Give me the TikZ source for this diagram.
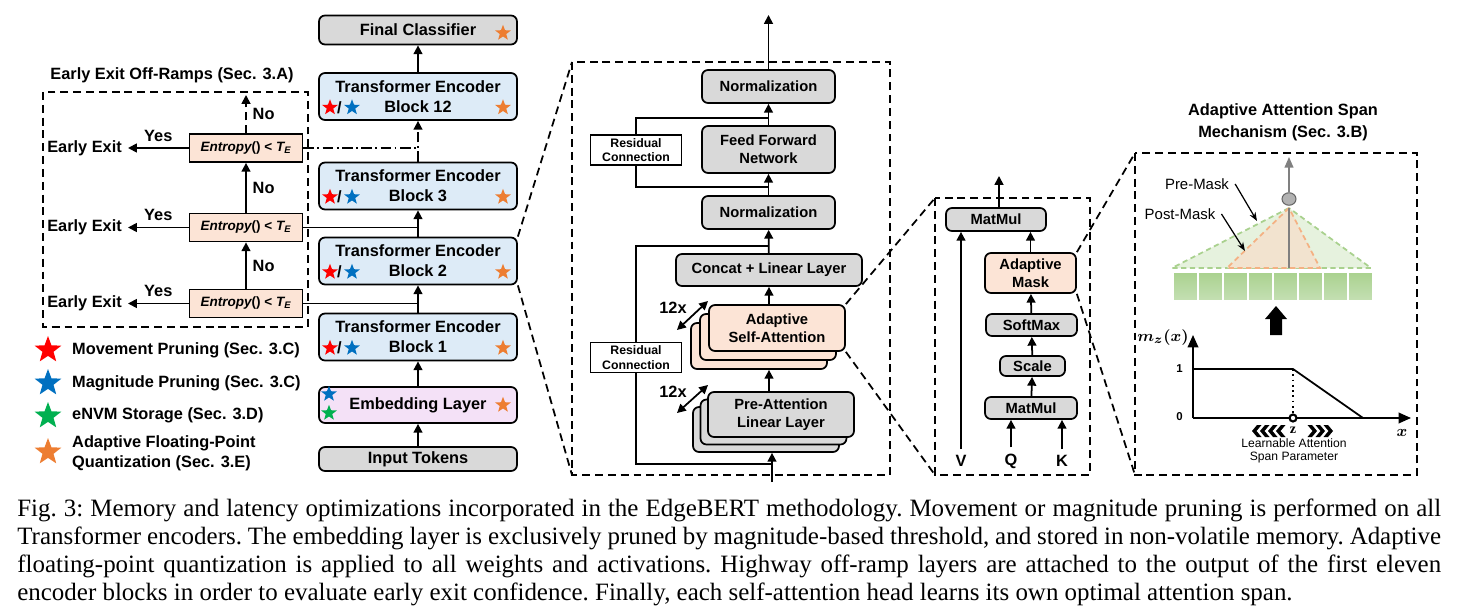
\documentclass[tikz,border=0pt]{standalone}
\usepackage{fontspec}
\setmainfont{Liberation Serif}
\setsansfont{Liberation Sans}
\usepackage{amsmath}
\usepackage{tikz}
\usetikzlibrary{arrows.meta, calc, shapes.geometric}
\definecolor{boxgray}{HTML}{D9D9D9}
\definecolor{encblue}{HTML}{DDEBF7}
\definecolor{embpink}{HTML}{F4E1F7}
\definecolor{rampfill}{HTML}{FCE4D6}
\definecolor{starred}{HTML}{FF0000}
\definecolor{starblue}{HTML}{0070C0}
\definecolor{stargreen}{HTML}{00B050}
\definecolor{starorange}{HTML}{ED7D31}
\definecolor{premaskfill}{HTML}{E6F2DE}
\definecolor{premaskline}{HTML}{A9D18E}
\definecolor{postmaskfill}{HTML}{F2E3CF}
\definecolor{postmaskline}{HTML}{F4B183}
\definecolor{celltop}{HTML}{A9D18E}
\definecolor{cellbot}{HTML}{C5E0B4}
\tikzset{
  flow/.style={
    -{Triangle[length=5pt,width=5pt]},
    line width=1pt
  },
  skipline/.style={
    line width=1pt,
    dash pattern=on 6pt off 2pt on 1pt off 2pt
  },
  layer/.style={
    draw,
    rounded corners=3.4pt,
    line width=1pt,
    inner sep=0pt,
    align=center,
    font=\sffamily\bfseries\fontsize{9.3}{11.3}\selectfont
  },
  attn layer/.style={
    layer,
    font=\sffamily\bfseries\fontsize{8.4}{10.2}\selectfont
  },
  encoder/.style={
    layer,
    fill=encblue,
    minimum width=3.96cm,
    minimum height=0.94cm
  },
  rampbox/.style={
    draw,
    fill=rampfill,
    line width=1pt,
    minimum width=2.26cm,
    minimum height=0.56cm,
    inner sep=0pt,
    font=\sffamily\bfseries\fontsize{7.7}{8.5}\selectfont
  },
  resbox/.style={
    draw,
    fill=white,
    line width=1pt,
    minimum width=1.82cm,
    minimum height=0.6cm,
    inner sep=0pt,
    align=center,
    font=\sffamily\bfseries\fontsize{7}{8.2}\selectfont
  },
  panel/.style={
    draw,
    line width=1pt,
    dash pattern=on 4.5pt off 2.8pt
  },
  zoomline/.style={
    line width=1pt,
    dash pattern=on 4.5pt off 2.8pt
  },
  label text/.style={
    font=\sffamily\bfseries\fontsize{9.3}{11.3}\selectfont
  },
  math label/.style={
    font=\fontsize{9.5}{10}\selectfont
  },
  pstar/.style={
    star,
    star points=5,
    star point ratio=2.4,
    inner sep=0pt,
    minimum size=0.33cm,
    fill=#1
  },
  bigstar/.style={
    pstar=#1,
    minimum size=0.56cm
  }
}
\newcommand{\entropytext}{{\itshape Entropy}() < {\itshape T\textsubscript{E}}}
\newcommand{\encstars}[1]{%
  \node[pstar=starred] (#1-mov) at ($(#1)+(-88,11)$) {};
  \node[label text, inner sep=0pt] (#1-sl) at ($(#1)+(-78.5,11)$) {/};
  \node[pstar=starblue] (#1-mag) at ($(#1)+(-66,11)$) {};
  \node[pstar=starorange] (#1-afp) at ($(#1)+(85,11)$) {};
}

\begin{document}
\begin{tikzpicture}[x=0.02cm, y=-0.02cm, >=Stealth]
  \useasboundingbox (0,0) rectangle (1458,615);

  % encoder column
  \node[layer, fill=boxgray, minimum width=3.96cm, minimum height=0.58cm] (final) at (418,30) {Final Classifier};
  \node[encoder] (enc12) at (418,96.5) {Transformer Encoder\\Block 12};
  \node[encoder] (enc3) at (418,186) {Transformer Encoder\\Block 3};
  \node[encoder] (enc2) at (418,261) {Transformer Encoder\\Block 2};
  \node[encoder] (enc1) at (418,337) {Transformer Encoder\\Block 1};
  \node[layer, fill=embpink, minimum width=3.96cm, minimum height=0.72cm] (emb) at (418,405) {Embedding Layer};
  \node[layer, fill=boxgray, minimum width=3.96cm, minimum height=0.48cm] (tokens) at (418,459) {Input Tokens};

  \encstars{enc12}
  \encstars{enc3}
  \encstars{enc2}
  \encstars{enc1}
  \node[pstar=starorange] (final-afp) at ($(final)+(85,3)$) {};
  \node[pstar=starblue] (emb-mag) at (329,394) {};
  \node[pstar=stargreen] (emb-nvm) at (329,413) {};
  \node[pstar=starorange] (emb-afp) at (503,405) {};

  \draw[flow] (tokens) -- (emb);
  \draw[flow] (emb) -- (enc1);
  \draw[flow] (enc1) -- (enc2);
  \draw[flow] (enc2) -- (enc3);
  \draw[flow, skipline] (enc3) -- (enc12);
  \draw[flow] (enc12) -- (final);

  % early exit off-ramps
  \node[label text] (rampTitle) at (172,75) {Early Exit Off-Ramps (Sec. 3.A)};
  \draw[panel] (43,92) rectangle (308,327);
  \node[rampbox] (ramp1) at (246,148) {\entropytext};
  \node[rampbox] (ramp2) at (246,227.5) {\entropytext};
  \node[rampbox] (ramp3) at (246,303.5) {\entropytext};
  \node[label text, anchor=east] (exit1) at (128,148) {Early Exit};
  \node[label text, anchor=east] (exit2) at (128,227.5) {Early Exit};
  \node[label text, anchor=east] (exit3) at (128,303.5) {Early Exit};
  \coordinate (rampTop) at (246,95);

  \draw[flow] (ramp1) -- (exit1) node[midway, above, label text] (yes1) {Yes};
  \draw[flow] (ramp2) -- (exit2) node[midway, above, label text] (yes2) {Yes};
  \draw[flow] (ramp3) -- (exit3) node[midway, above, label text] (yes3) {Yes};
  \draw[flow] (ramp3) -- (ramp2) node[midway, right, label text] (no3) {No};
  \draw[flow] (ramp2) -- (ramp1) node[midway, right, label text] (no2) {No};
  \draw[flow, zoomline] (ramp1) -- (rampTop) node[midway, right, label text] (no1) {No};

  \draw[line width=1pt] (ramp3) -- (ramp3 -| enc1);
  \draw[line width=1pt] (ramp2) -- (ramp2 -| enc2);
  \draw[skipline] (ramp1) -- (ramp1 -| enc12);

  % legend
  \node[bigstar=starred] (legMov) at (48,350) {};
  \node[bigstar=starblue] (legMag) at (48,383) {};
  \node[bigstar=stargreen] (legNvm) at (48,416) {};
  \node[bigstar=starorange] (legAfp) at (48,452) {};
  \node[label text, anchor=west] (legMovText) at (66,350) {Movement Pruning (Sec. 3.C)};
  \node[label text, anchor=west] (legMagText) at (66,383) {Magnitude Pruning (Sec. 3.C)};
  \node[label text, anchor=west] (legNvmText) at (66,415) {eNVM Storage (Sec. 3.D)};
  \node[label text, anchor=west, align=left] (legAfpText) at (66,453) {Adaptive Floating-Point\\Quantization (Sec. 3.E)};

  % encoder block detail
  \draw[panel] (572,62) rectangle (890,475);
  \coordinate (attnNW) at (572,62);
  \coordinate (attnSW) at (572,475);
  \draw[zoomline] (enc2.north east) -- (attnNW);
  \draw[zoomline] (enc2.south east) -- (attnSW);

  \node[attn layer, fill=boxgray, minimum width=2.66cm, minimum height=0.66cm] (norm1) at (768.5,86.5) {Normalization};
  \node[attn layer, fill=boxgray, minimum width=2.66cm, minimum height=0.94cm] (ffn) at (768.5,149.5) {Feed Forward\\Network};
  \node[attn layer, fill=boxgray, minimum width=2.66cm, minimum height=0.66cm] (norm2) at (768.5,212.5) {Normalization};
  \node[attn layer, fill=boxgray, minimum width=3.72cm, minimum height=0.64cm] (concat) at (769,270) {Concat + Linear Layer};
  \node[attn layer, fill=rampfill, minimum width=2.72cm, minimum height=0.92cm] (saBack) at (759,346) {};
  \node[attn layer, fill=rampfill, minimum width=2.72cm, minimum height=0.92cm] (saMid) at (768,337) {};
  \node[attn layer, fill=rampfill, minimum width=2.72cm, minimum height=0.92cm] (sa) at (777,328) {Adaptive\\Self-Attention};
  \node[attn layer, fill=boxgray, minimum width=2.92cm, minimum height=0.9cm] (paBack) at (766,429.5) {};
  \node[attn layer, fill=boxgray, minimum width=2.92cm, minimum height=0.9cm] (paMid) at (773.5,422) {};
  \node[attn layer, fill=boxgray, minimum width=2.92cm, minimum height=0.9cm] (pa) at (781,414.5) {Pre-Attention\\Linear Layer};
  \node[resbox] (res1) at (636,150) {Residual\\Connection};
  \node[resbox] (res2) at (636,357.5) {Residual\\Connection};

  \coordinate (attnOut) at (768.5,15);
  \coordinate (attnIn) at (772,482);
  \coordinate (ffnTap) at (768.5,187);
  \coordinate (normTap) at (768.5,118);
  \coordinate (inTap) at (772,464);
  \coordinate (concatTap) at (768.5,246);

  \draw[flow] (attnIn) -- (attnIn |- paBack.south);
  \draw[flow] (pa.north -| concat.south) -- (saBack.south -| concat.south);
  \draw[flow] (sa.north -| concat.south) -- (concat.south);
  \draw[flow] (concat) -- (norm2);
  \draw[flow] (norm2) -- (ffn);
  \draw[flow] (ffn) -- (norm1);
  \draw[flow] (norm1) -- (attnOut);
  \draw[line width=1pt] (ffnTap) -| (res1.south);
  \draw[line width=1pt] (res1.north) |- (normTap);
  \draw[line width=1pt] (inTap) -| (res2.south);
  \draw[line width=1pt] (res2.north) |- (concatTap);

  \node[label text] (headsSa) at (673,308) {12x};
  \node[label text] (headsPa) at (673,392) {12x};
  \coordinate (saArrA) at (677,330);
  \coordinate (saArrB) at (708,301);
  \coordinate (paArrA) at (677,413);
  \coordinate (paArrB) at (708,385);
  \draw[{Triangle[length=5pt,width=5pt]}-{Triangle[length=5pt,width=5pt]}, line width=1pt] (saArrA) -- (saArrB);
  \draw[{Triangle[length=5pt,width=5pt]}-{Triangle[length=5pt,width=5pt]}, line width=1pt] (paArrA) -- (paArrB);

  % self-attention head
  \draw[panel] (935,198) rectangle (1090,475);
  \coordinate (mmNW) at (935,198);
  \coordinate (mmSW) at (935,475);
  \draw[zoomline] (sa.north east) -- (mmNW);
  \draw[zoomline] (sa.south east) -- (mmSW);

  \node[attn layer, fill=boxgray, minimum width=2.0cm, minimum height=0.46cm] (mmOut) at (996,219.5) {MatMul};
  \node[attn layer, fill=rampfill, minimum width=1.82cm, minimum height=0.8cm] (mask) at (1030.5,273) {Adaptive\\Mask};
  \node[attn layer, fill=boxgray, minimum width=1.82cm, minimum height=0.44cm] (softmax) at (1031.5,325) {SoftMax};
  \node[attn layer, fill=boxgray, minimum width=1.3cm, minimum height=0.4cm] (scale) at (1032.5,366) {Scale};
  \node[attn layer, fill=boxgray, minimum width=1.84cm, minimum height=0.44cm] (mmIn) at (1031,408) {MatMul};
  \node[label text] (vIn) at (961,461) {V};
  \node[label text] (qIn) at (1011,461) {Q};
  \node[label text] (kIn) at (1062,461) {K};
  \coordinate (headOut) at (999,176);

  \draw[flow] (mmOut.north -| headOut) -- (headOut);
  \draw[flow] (mask.north) -- (mask.north |- mmOut.south);
  \draw[flow] (softmax) -- (mask);
  \draw[flow] (scale) -- (softmax);
  \draw[flow] (mmIn) -- (scale);
  \draw[flow] (vIn) -- (vIn |- mmOut.south);
  \draw[flow] (qIn) -- (qIn |- mmIn.south);
  \draw[flow] (kIn) -- (kIn |- mmIn.south);

  % adaptive attention span
  \node[label text, align=center, font=\sffamily\bfseries\fontsize{9.3}{12.5}\selectfont] (spanTitle) at (1283,122) {Adaptive Attention Span\\Mechanism (Sec. 3.B)};
  \draw[panel] (1135,153) rectangle (1417,475);
  \coordinate (spanNW) at (1135,153);
  \coordinate (spanSW) at (1135,475);
  \draw[zoomline] (mask.north east) -- (spanNW);
  \draw[zoomline] (mask.south east) -- (spanSW);

  \coordinate (apex) at (1289,208);
  \coordinate (apexBase) at (1289,268);
  \filldraw[fill=premaskfill, draw=premaskline, line width=1pt, dash pattern=on 3pt off 2pt] (apex) -- (1172,268) -- (1371,268) -- cycle;
  \filldraw[fill=postmaskfill, draw=postmaskline, line width=1pt, dash pattern=on 3pt off 2pt] (apex) -- (1227,268) -- (1320,268) -- cycle;
  \draw[gray, line width=0.7pt] (apex) -- (apexBase);
  \foreach \i in {0,...,7}
    \draw[white, line width=1.3pt, top color=celltop, bottom color=cellbot] ({1173+25*\i},272) rectangle ++(25,29);
  \node[ellipse, draw=gray!80!black, fill=gray!60, line width=0.6pt, minimum width=0.28cm, minimum height=0.25cm, inner sep=0pt] (headNode) at (1289,199) {};
  \coordinate (spanOut) at (1289,157);
  \draw[-{Triangle[length=6pt,width=5pt]}, gray, line width=0.8pt] (headNode) -- (spanOut);

  \node[font=\sffamily\fontsize{8.5}{10}\selectfont] (preMask) at (1197,184) {Pre-Mask};
  \node[font=\sffamily\fontsize{8.5}{10}\selectfont] (postMask) at (1180,214) {Post-Mask};
  \coordinate (preTip) at (1257,221);
  \coordinate (postTip) at (1245,251);
  \draw[-{Stealth[length=5pt]}, line width=0.7pt] (preMask.east) -- (preTip);
  \draw[-{Stealth[length=5pt]}, line width=0.7pt] (postMask.east) -- (postTip);

  % big arrow and mask curve
  \fill (1270,335) -- (1270,319) -- (1265,319) -- (1276,306) -- (1287,319) -- (1282,319) -- (1282,335) -- cycle;
  \coordinate (orig) at (1193,418);
  \coordinate (yEnd) at (1193,335);
  \coordinate (xEnd) at (1411,418);
  \draw[-{Triangle[length=7pt,width=6pt]}, line width=1pt] (orig) -- (yEnd);
  \draw[-{Triangle[length=7pt,width=6pt]}, line width=1pt] (orig) -- (xEnd);
  \node[math label] (mzLab) at (1163,338) {$\boldsymbol{m_z(x)}$};
  \node[math label] (xLab) at (1402,433) {$\boldsymbol{x}$};
  \node[font=\sffamily\bfseries\fontsize{6.5}{7}\selectfont, anchor=east] (oneLab) at (1189,369) {1};
  \node[font=\sffamily\bfseries\fontsize{6.5}{7}\selectfont, anchor=east] (zeroLab) at (1189,417) {0};
  \draw[line width=1pt] (1193,369) -- (1293,369) -- (1363,418);
  \draw[dotted, line width=1pt] (1293,369) -- (1293,418);
  \node[circle, draw, fill=white, line width=1.2pt, minimum size=0.14cm, inner sep=0pt] (zPoint) at (1293,418) {};
  \node[font=\bfseries\fontsize{8}{8}\selectfont] (zLab) at (1293,430) {z};
  \foreach \k in {0,...,3}
    \fill ({1252+8*\k},431) -- ++(5,-6) -- ++(4.5,0) -- ++(-5,6) -- ++(5,6) -- ++(-4.5,0) -- cycle;
  \foreach \k in {0,...,2}
    \fill ({1333-8*\k},431) -- ++(-5,-6) -- ++(-4.5,0) -- ++(5,6) -- ++(-5,6) -- ++(4.5,0) -- cycle;
  \node[font=\sffamily\fontsize{6.9}{7.4}\selectfont, align=center] (spanParam) at (1294,451) {Learnable Attention\\Span Parameter};

  % caption
  \node[anchor=north west, inner sep=0pt, text width=28.48cm, align=justify,
        font=\fontsize{14.2}{15.9}\selectfont] (caption) at (17,499)
    {\hyphenpenalty=10000 \frenchspacing Fig. 3: Memory and latency optimizations incorporated in the EdgeBERT methodology. Movement or magnitude pruning is performed on all\linebreak
     Transformer encoders. The embedding layer is exclusively pruned by magnitude-based threshold, and stored in non-volatile memory. Adaptive\linebreak
     floating-point quantization is applied to all weights and activations. Highway off-ramp layers are attached to the output of the first eleven\linebreak
     encoder blocks in order to evaluate early exit confidence. Finally, each self-attention head learns its own optimal attention span.};
\end{tikzpicture}
\end{document}
